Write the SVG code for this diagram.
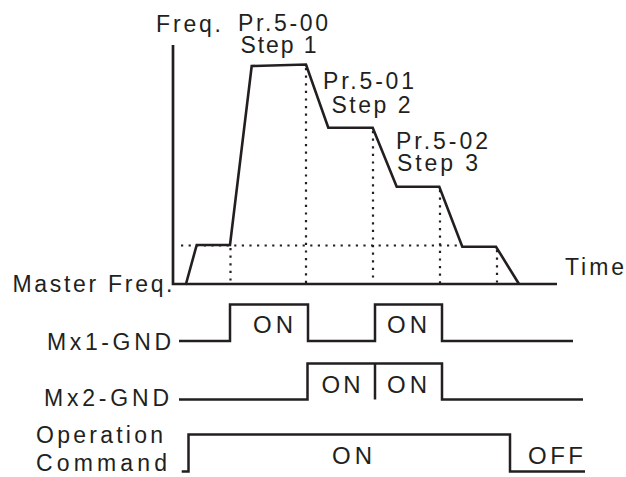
<svg xmlns="http://www.w3.org/2000/svg" width="626" height="477" viewBox="0 0 626 477">
<style>
  text { font-family: "Liberation Sans", Arial, sans-serif; font-size: 23px; fill: #231f20; }
  .on { font-size: 24px; }
  .ax { fill: none; stroke: #231f20; stroke-width: 2.7; }
  .cv { fill: none; stroke: #231f20; stroke-width: 2.6; stroke-linejoin: miter; }
  .dot { fill: none; stroke: #231f20; stroke-width: 2.2; stroke-dasharray: 2.2 5.4; }
  .sig { fill: none; stroke: #231f20; stroke-width: 2.5; stroke-linejoin: miter; }
</style>
<rect width="626" height="477" fill="#ffffff"/>

<g id="labels-top">
  <text x="156" y="31.5" textLength="65">Freq.</text>
  <text x="238" y="30.5" textLength="90">Pr.5-00</text>
  <text x="240.5" y="53" textLength="76">Step 1</text>
  <text x="323" y="89" textLength="91">Pr.5-01</text>
  <text x="331.5" y="113" textLength="79">Step 2</text>
  <text x="396" y="149" textLength="92">Pr.5-02</text>
  <text x="397" y="170.5" textLength="81">Step 3</text>
  <text x="565" y="275" textLength="59">Time</text>
  <text x="12.5" y="291.5" textLength="160">Master Freq.</text>
</g>

<g id="connectors">
  <g id="dotted-guides">
    <path class="dot" d="M181,245.5 H462"/>
    <path class="dot" d="M230.5,248 V284"/>
    <path class="dot" d="M306,68 V284"/>
    <path class="dot" d="M373,131 V284"/>
    <path class="dot" d="M440,190 V284"/>
    <path class="dot" d="M497,250 V284"/>
  </g>
  <g id="axes">
    <path class="ax" d="M173,45 V284 H557"/>
  </g>
  <g id="freq-curve">
    <path class="cv" d="M185.7,285 L196.7,245 L230,245 L251.7,66 L306,64.5 L328.3,127.7 L372.7,127.7 L396.7,186.7 L439.3,186.7 L462.3,246.7 L496,246.7 L519,284"/>
  </g>
</g>

<g id="mx1">
  <text x="47" y="349.5" textLength="124">Mx1-GND</text>
  <path class="sig" d="M179,341 H230 V304.5 H308 V341 H375 V304.5 H442 V341 H573"/>
  <text class="on" x="253" y="333" textLength="40">ON</text>
  <text class="on" x="387" y="333" textLength="40">ON</text>
</g>

<g id="mx2">
  <text x="44" y="406" textLength="125">Mx2-GND</text>
  <path class="sig" d="M179,399.5 H307.5 V363.5 H442 V399.5 H583"/>
  <path class="sig" d="M375,363.5 V399.5"/>
  <text class="on" x="321.5" y="392.5" textLength="39">ON</text>
  <text class="on" x="387" y="392.5" textLength="40">ON</text>
</g>

<g id="operation">
  <text x="36" y="443" textLength="127">Operation</text>
  <text x="36" y="471" textLength="131">Command</text>
  <path class="sig" d="M181.7,471.5 H188.5 V434.5 H510 V471.5 H585"/>
  <text class="on" x="332" y="464" textLength="40">ON</text>
  <text class="on" x="528" y="464" textLength="55">OFF</text>
</g>
</svg>
